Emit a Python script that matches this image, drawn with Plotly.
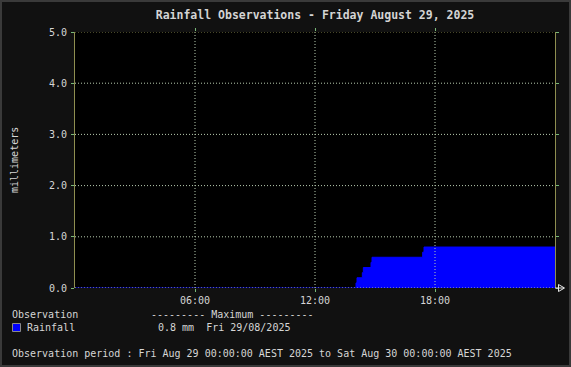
import plotly.graph_objects as go

# ---------------- data ----------------
times = ["2025-08-29 00:00", "2025-08-29 14:03", "2025-08-29 14:06",
         "2025-08-29 14:22", "2025-08-29 14:25", "2025-08-29 14:48",
         "2025-08-29 14:51", "2025-08-29 17:23", "2025-08-29 17:27",
         "2025-08-30 00:00"]
rain_mm = [0.0, 0.1, 0.2, 0.3, 0.4, 0.5, 0.6, 0.7, 0.8, 0.8]

x_start = "2025-08-29 00:00"
x_end = "2025-08-30 00:00"
x_tickvals = ["2025-08-29 06:00", "2025-08-29 12:00", "2025-08-29 18:00"]
x_ticktext = ["06:00", "12:00", "18:00"]
y_tickvals = [0, 1, 2, 3, 4, 5]
y_ticktext = ["0.0", "1.0", "2.0", "3.0", "4.0", "5.0"]

title_text = "Rainfall Observations - Friday August 29, 2025"
y_title = "millimeters"
legend_header = "Observation"
max_header = "--------- Maximum ---------"
series_name = "Rainfall"
max_text = "0.8 mm  Fri 29/08/2025"
period_text = ("Observation period : Fri Aug 29 00:00:00 AEST 2025 to "
               "Sat Aug 30 00:00:00 AEST 2025")

# ---------------- layout geometry ----------------
W, H = 571, 367
L, R, T, B = 75, 16, 32, 79
PW, PH = W - L - R, H - T - B

def px(xp):
    return (xp - L) / PW

def py(yp):
    return (H - B - yp) / PH

FONT = "DejaVu Sans Mono"
TXT = "#d6d6d6"
GRID = "#b8ccb0"
AXIS = "#8e8e50"
TICK = "#78b878"
BLUE = "#0000ff"

fig = go.Figure()
fig.add_trace(go.Scatter(
    x=times, y=rain_mm, mode="lines", line=dict(color=BLUE, width=1, shape="hv"),
    fill="tozeroy", fillcolor=BLUE, showlegend=False, hoverinfo="skip"))

shapes = []
# grid lines drawn above the data
for tv in x_tickvals:
    shapes.append(dict(type="line", xref="x", yref="y", x0=tv, x1=tv, y0=0, y1=5,
                       line=dict(color=GRID, width=1, dash="1px,2px"), layer="above"))
for yv in y_tickvals:
    shapes.append(dict(type="line", xref="x", yref="y", x0=x_start, x1=x_end, y0=yv, y1=yv,
                       line=dict(color=GRID if yv < 5 else AXIS, width=1, dash="1px,2px"),
                       layer="above"))
# arrow at end of time axis
shapes.append(dict(type="line", xref="paper", yref="paper", x0=px(555), x1=px(564),
                   y0=0, y1=0, line=dict(color="#e8e8e8", width=1), layer="above"))
shapes.append(dict(type="path", xref="paper", yref="paper",
                   path=f"M {px(558.5)},{py(284.5)} L {px(564.5)},{py(288)} L {px(558.5)},{py(291.5)} Z",
                   line=dict(color="#e8e8e8", width=1), fillcolor="rgba(0,0,0,0)", layer="above"))
# legend swatch
shapes.append(dict(type="rect", xref="paper", yref="paper", x0=px(12.5), x1=px(20.5),
                   y0=py(331.5), y1=py(323.5), fillcolor=BLUE,
                   line=dict(color="#8a8a8a", width=1), layer="above"))
# outer frame
shapes.append(dict(type="rect", xref="paper", yref="paper", x0=px(1), x1=px(W - 1),
                   y0=py(H - 1), y1=py(1), fillcolor="rgba(0,0,0,0)",
                   line=dict(color="#3a3a3a", width=2), layer="above"))

def ann(text, xp, yp, **kw):
    d = dict(text=text, xref="paper", yref="paper", x=px(xp), y=py(yp),
             xanchor="left", yanchor="middle", showarrow=False,
             font=dict(family=FONT, size=10, color=TXT))
    d.update(kw)
    return d

annotations = [
    ann(legend_header, 10, 314.5),
    ann(max_header, 149, 314.5),
    ann(series_name, 25, 327.5),
    ann(max_text, 155.5, 327.5),
    ann(period_text, 10, 353.5),
    dict(text=y_title, xref="paper", yref="paper", x=px(14), y=py(160),
         xanchor="center", yanchor="middle", showarrow=False, textangle=-90,
         font=dict(family=FONT, size=10, color=TXT)),
]

fig.update_layout(
    width=W, height=H,
    margin=dict(l=L, r=R, t=T, b=B, pad=0),
    paper_bgcolor="#111111", plot_bgcolor="#000000",
    title=dict(text=title_text, x=0.5, xanchor="center", xref="paper",
               y=1 - 15 / H, yanchor="middle", yref="container",
               font=dict(family=FONT, size=11.5, color="#d4d4d4", weight="bold")),
    shapes=shapes, annotations=annotations,
    showlegend=False,
)
fig.update_xaxes(type="date", range=[x_start, x_end], tickvals=x_tickvals, ticktext=x_ticktext,
                 showgrid=False, zeroline=False, showline=False, ticks="outside",
                 ticklen=3, tickcolor=TICK, mirror="ticks",
                 tickfont=dict(family=FONT, size=10, color=TXT), fixedrange=True)
fig.update_yaxes(range=[0, 5], tickvals=y_tickvals, ticktext=y_ticktext,
                 showgrid=False, zeroline=False, showline=True, linecolor=AXIS, linewidth=1,
                 ticks="outside", ticklen=3, tickcolor=TICK, mirror="ticks",
                 ticklabelstandoff=2,
                 tickfont=dict(family=FONT, size=10, color=TXT), fixedrange=True)

fig.write_html("out.html", config={"displayModeBar": False},
               post_script="document.body.style.margin='0';document.body.style.overflow='hidden';")
